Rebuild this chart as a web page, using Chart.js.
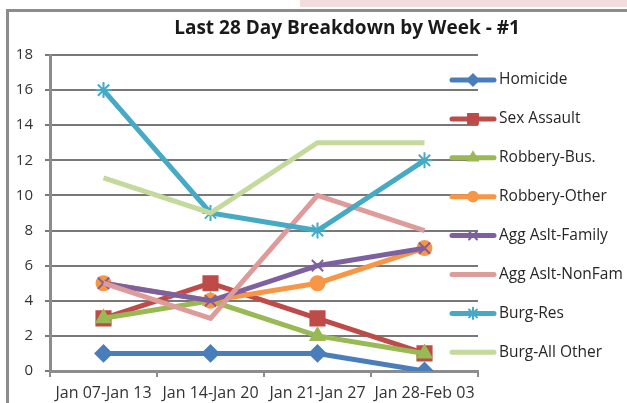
<!DOCTYPE html>
<html>
<head>
<meta charset="utf-8">
<script src="https://cdn.jsdelivr.net/npm/chart.js@4"></script>
<style>
  html, body { margin: 0; padding: 0; background: #fff; }
</style>
</head>
<body>
<canvas id="chart" width="627" height="403"></canvas>
<script>
// weeks and counts per offence
const weeks = ['Jan 07-Jan 13', 'Jan 14-Jan 20', 'Jan 21-Jan 27', 'Jan 28-Feb 03'];
const homicide = [1, 1, 1, 0];
const sexAssault = [3, 5, 3, 1];
const robberyBus = [3, 4, 2, 1];
const robberyOther = [5, 4, 5, 7];
const aggFamily = [5, 4, 6, 7];
const aggNonFam = [5, 3, 10, 8];
const burgRes = [16, 9, 8, 12];
const burgOther = [11, 9, 13, 13];
const titleText = 'Last 28 Day Breakdown by Week - #1';

const series = [
    { label: 'Homicide', data: homicide, color: '#4a7ebb', style: 'rectRot', r: 8 },
    { label: 'Sex Assault', data: sexAssault, color: '#be4b48', style: 'rect', r: 10 },
    { label: 'Robbery-Bus.', data: robberyBus, color: '#98b954', style: 'triangle', r: 8 },
    { label: 'Robbery-Other', data: robberyOther, color: '#f79646', style: 'circle', r: 7 },
    { label: 'Agg Aslt-Family', data: aggFamily, color: '#7d60a0', style: 'crossRot', r: 8 },
    { label: 'Agg Aslt-NonFam', data: aggNonFam, color: '#dd9c9a', style: false, r: 0 },
    { label: 'Burg-Res', data: burgRes, color: '#46aac5', style: 'star', r: 8 },
    { label: 'Burg-All Other', data: burgOther, color: '#c4d99c', style: false, r: 0 }
];

// outer frame of the pasted chart picture
const frame = {
    id: 'frame',
    beforeDraw(chart) {
        const ctx = chart.ctx;
        ctx.save();
        ctx.fillStyle = '#f3dcdc';
        ctx.fillRect(300, 0, 327, 7);
        ctx.strokeStyle = '#8c8c8c';
        ctx.lineWidth = 3;
        ctx.beginPath();
        ctx.moveTo(7.5, 403);
        ctx.lineTo(7.5, 10.5);
        ctx.lineTo(627, 10.5);
        ctx.stroke();
        ctx.restore();
    }
};

// title and legend are drawn by hand so they sit where Excel put them
const extras = {
    id: 'extras',
    afterDraw(chart) {
        const ctx = chart.ctx;
        ctx.save();
        ctx.fillStyle = '#1a1a1a';
        ctx.font = 'bold 19px "Open Sans"';
        ctx.textAlign = 'center';
        ctx.textBaseline = 'middle';
        ctx.fillText(titleText, 347, 29);
        ctx.restore();
        chart.data.datasets.forEach(function(ds, i) {
            const y = 80 + i * 38.9;
            ctx.save();
            ctx.strokeStyle = ds.borderColor;
            ctx.lineWidth = 5;
            ctx.lineCap = 'round';
            ctx.beginPath();
            ctx.moveTo(452, y);
            ctx.lineTo(494, y);
            ctx.stroke();
            if (ds.pointStyle) {
                ctx.fillStyle = ds.borderColor;
                ctx.strokeStyle = ds.borderColor;
                ctx.lineWidth = 2;
                Chart.helpers.drawPoint(ctx, { pointStyle: ds.pointStyle, radius: ds.pointRadius * 0.7, rotation: 0, borderWidth: 2 }, 473, y);
            }
            ctx.fillStyle = '#262626';
            ctx.font = '15.5px "Open Sans"';
            ctx.textBaseline = 'middle';
            ctx.fillText(ds.label, 499, y);
            ctx.restore();
        });
    }
};

const ctx = document.getElementById('chart').getContext('2d');
const chart = new Chart(ctx, {
    type: 'line',
    data: {
        labels: weeks,
        datasets: series.map((s, i) => ({
            label: s.label,
            data: s.data,
            borderColor: s.color,
            backgroundColor: s.color,
            borderWidth: 5,
            pointStyle: s.style,
            pointRadius: s.r,
            pointBorderWidth: 2,
            tension: 0,
            order: 8 - i
        }))
    },
    options: {
        responsive: false,
        animation: false,
        layout: { padding: { left: 8, right: 149, top: 55, bottom: 1 } },
        plugins: {
            legend: { display: false },
            tooltip: { enabled: false },
            title: { display: false }
        },
        scales: {
            x: {
                offset: true,
                afterFit: function(scale) { scale.height = 31; },
                grid: { offset: true, drawOnChartArea: false, color: '#8c8c8c', lineWidth: 2, tickLength: 6 },
                border: { color: '#8c8c8c', width: 3 },
                ticks: { color: '#333', font: { family: 'Open Sans', size: 16 }, maxRotation: 0, padding: 7 }
            },
            y: {
                min: 0,
                max: 18,
                afterFit: function(scale) { scale.width = 42; },
                grid: { drawOnChartArea: true, color: 'rgb(120,120,120)', lineWidth: 2, tickLength: 5 },
                border: { color: '#8c8c8c', width: 3 },
                ticks: { stepSize: 2, color: '#333', font: { family: 'Open Sans', size: 15 }, padding: 12 }
            }
        }
    },
    plugins: [frame, extras]
});
</script>
</body>
</html>
